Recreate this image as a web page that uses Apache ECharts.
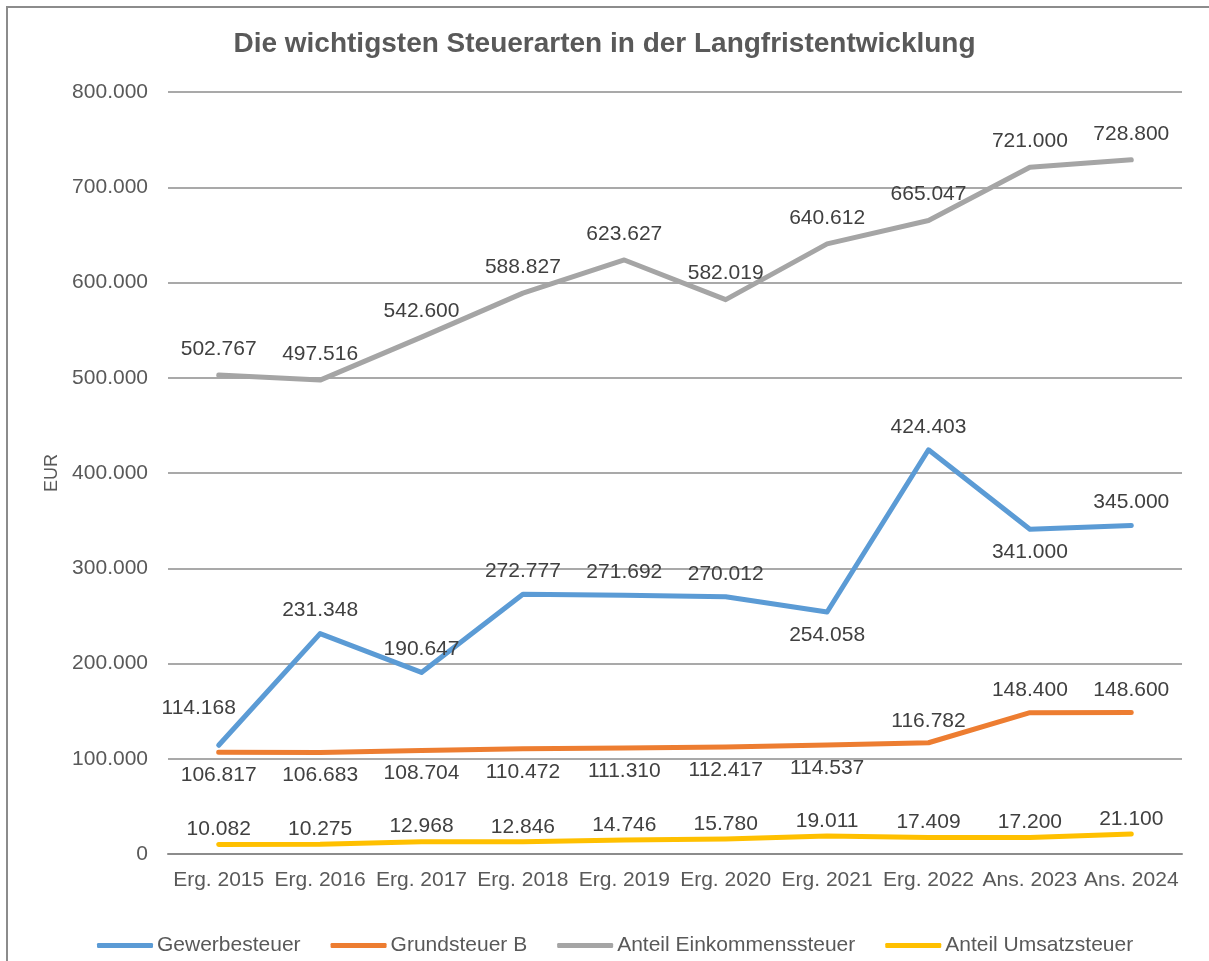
<!DOCTYPE html>
<html>
<head>
<meta charset="utf-8">
<script src="https://cdn.jsdelivr.net/npm/echarts@6/dist/echarts.min.js"></script>
<style>
html,body{margin:0;padding:0;background:#fff;}
#chart{width:1209px;height:961px;}
</style>
</head>
<body>
<div id="chart"></div>
<script>
const categories = ['Erg. 2015','Erg. 2016','Erg. 2017','Erg. 2018','Erg. 2019','Erg. 2020','Erg. 2021','Erg. 2022','Ans. 2023','Ans. 2024'];
const gewerbesteuer = [114168,231348,190647,272777,271692,270012,254058,424403,341000,345000];
const grundsteuerB = [106817,106683,108704,110472,111310,112417,114537,116782,148400,148600];
const einkommensteuer = [502767,497516,542600,588827,623627,582019,640612,665047,721000,728800];
const umsatzsteuer = [10082,10275,12968,12846,14746,15780,19011,17409,17200,21100];
const seriesNames = ['Gewerbesteuer','Grundsteuer B','Anteil Einkommenssteuer','Anteil Umsatzsteuer'];

const gewerbeBelow = [6,8];
const grundAbove = [7,8,9];

const fmt = v => v.toLocaleString('de-DE');
const textColor = '#595959';
const labelColor = '#404040';
const font = 'Liberation Sans, Arial, sans-serif';
const fs = 21;

function mk(values, belowFn, distTop, distBottom, special) {
  return values.map((v,i) => {
    const below = belowFn(i);
    const lab = {show: true, position: below ? 'bottom' : 'top', distance: below ? distBottom : distTop};
    if (special && special[i]) Object.assign(lab, special[i]);
    return {value: v, label: lab};
  });
}

const chart = echarts.init(document.getElementById('chart'));
const lineBase = (name, color, data) => ({
  name, type: 'line', data, symbol: 'circle', symbolSize: 1, showSymbol: true, smooth: false,
  lineStyle: {width: 5, color, cap: 'round', join: 'round'},
  itemStyle: {color},
  label: {show: true, formatter: p => fmt(p.value), color: labelColor, fontSize: fs, fontFamily: font},
  emphasis: {disabled: true}
});

chart.setOption({
  animation: false,
  backgroundColor: '#fff',
  textStyle: {fontFamily: font},
  graphic: [{
    type: 'rect', silent: true, z: -10,
    shape: {x: 7, y: 7, width: 1300, height: 1000},
    style: {fill: 'none', stroke: '#8c8c8c', lineWidth: 2}
  }],
  title: {
    text: 'Die wichtigsten Steuerarten in der Langfristentwicklung',
    left: 'center', top: 25,
    textStyle: {fontSize: 28, fontWeight: 'bold', color: textColor, fontFamily: font}
  },
  legend: {
    bottom: 0, left: 92,
    itemWidth: 56, itemHeight: 5, itemGap: 30,
    icon: 'roundRect',
    textStyle: {fontSize: fs, color: textColor, fontFamily: font, padding: [0,0,0,-1]},
    data: seriesNames
  },
  grid: {left: 168, right: 27, top: 92, bottom: 107, containLabel: false},
  xAxis: {
    type: 'category', data: categories, boundaryGap: true,
    axisLine: {lineStyle: {color: '#8c8c8c', width: 2}},
    axisTick: {show: false},
    axisLabel: {color: textColor, fontSize: fs, fontFamily: font, margin: 16, interval: 0}
  },
  yAxis: {
    type: 'value', min: 0, max: 800000, interval: 100000,
    name: 'EUR', nameLocation: 'middle', nameGap: 106, nameRotate: 90,
    nameTextStyle: {color: textColor, fontSize: 18, fontFamily: font},
    axisLine: {show: false}, axisTick: {show: false},
    splitLine: {lineStyle: {color: '#8c8c8c', width: 1.5}},
    axisLabel: {color: textColor, fontSize: fs, fontFamily: font, margin: 20, formatter: v => v === 0 ? '0' : fmt(v)}
  },
  series: [
    lineBase(seriesNames[0], '#5B9BD5', mk(gewerbesteuer, i => gewerbeBelow.includes(i), 12, 12, {0: {offset: [-20, -14]}})),
    lineBase(seriesNames[1], '#ED7D31', mk(grundsteuerB, i => !grundAbove.includes(i), 11, 12)),
    lineBase(seriesNames[2], '#A5A5A5', mk(einkommensteuer, i => false, 15, 10)),
    lineBase(seriesNames[3], '#FFC000', mk(umsatzsteuer, i => false, 4, 10))
  ]
});
</script>
</body>
</html>
